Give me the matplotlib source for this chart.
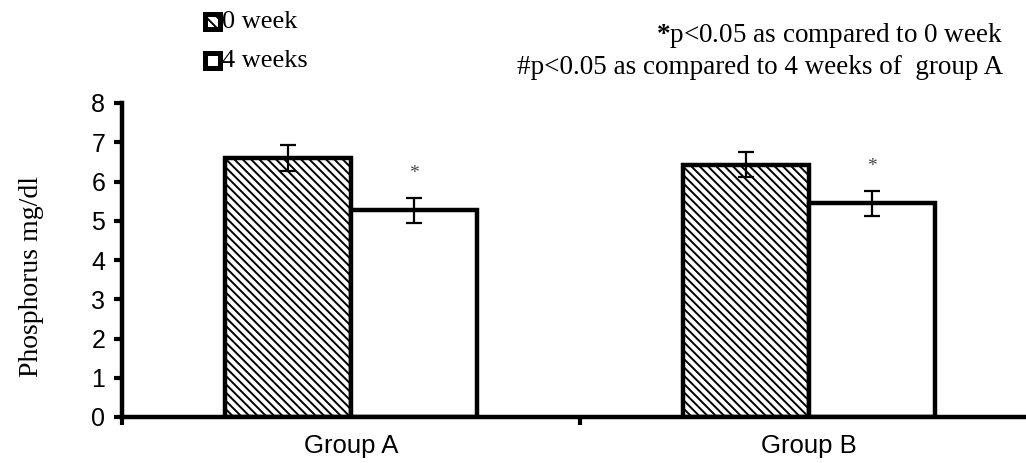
import matplotlib
matplotlib.use("Agg")
import matplotlib.pyplot as plt
from matplotlib.patches import Rectangle
import numpy as np

groups = ["Group A", "Group B"]
series = ["0 week", "4 weeks"]
week0 = [6.60, 6.43]
week4 = [5.27, 5.44]
err0 = [0.33, 0.32]
err4 = [0.32, 0.32]
sig_marks = ["*", "*"]
yticks = [0, 1, 2, 3, 4, 5, 6, 7, 8]

plt.rcParams['hatch.linewidth'] = 1.4
plt.rcParams['mathtext.fontset'] = 'custom'
plt.rcParams['mathtext.rm'] = 'Liberation Serif'
plt.rcParams['mathtext.bf'] = 'Liberation Serif:bold'

W, H = 1026, 463
fig = plt.figure(figsize=(W / 100, H / 100), dpi=100)
ax = fig.add_axes([122 / W, (H - 417) / H, 916 / W, (417 - 103) / H])

x = np.arange(len(groups))
bw = 0.275
b0 = ax.bar(x - bw / 2, week0, bw, color='white', edgecolor='black', linewidth=3.2,
            hatch='\\' * 4, zorder=2)
b4 = ax.bar(x + bw / 2, week4, bw, color='white', edgecolor='black', linewidth=3.2, zorder=2)
ax.errorbar(x - bw / 2, week0, yerr=err0, fmt='none', ecolor='black', elinewidth=1.6,
            capsize=6, capthick=1.6, zorder=3)
ax.errorbar(x + bw / 2, week4, yerr=err4, fmt='none', ecolor='black', elinewidth=1.6,
            capsize=6, capthick=1.6, zorder=3)
for xi, v, e, m in zip(x + bw / 2, week4, err4, sig_marks):
    ax.text(xi, v + e + 0.62, m, ha='center', va='center', fontsize=14,
            family='Liberation Serif', color='#444444')

ax.set_xlim(-0.5, 1.5)
ax.set_ylim(0, 8)
ax.set_yticks(yticks)
ax.set_yticklabels([str(t) for t in yticks], family='Liberation Sans', fontsize=18)
ax.tick_params(axis='y', direction='out', length=6, width=3, pad=6)
ax.set_xticks([-0.5, 0.5, 1.5])
ax.set_xticklabels([])
ax.tick_params(axis='x', which='major', direction='out', length=6, width=3)
ax.set_xticks(x, minor=True)
ax.set_xticklabels(groups, minor=True, family='Liberation Sans', fontsize=18.5)
ax.tick_params(axis='x', which='minor', length=0, pad=12)
for s in ['top', 'right']:
    ax.spines[s].set_visible(False)
for s in ['left', 'bottom']:
    ax.spines[s].set_linewidth(3.2)
ax.set_ylabel("Phosphorus mg/dl", family='Liberation Serif', fontsize=20)
ax.yaxis.set_label_coords(-0.085, 0.446)

# legend
for i, (lab, hatched) in enumerate(zip(series, [True, False])):
    yc = 22 + 39 * i
    rx, ry, s = 205, yc - 8, 15
    r = Rectangle((rx / W, 1 - (ry + s) / H), s / W, s / H, transform=fig.transFigure,
                  facecolor='white', edgecolor='black', linewidth=3.6,
                  hatch=('\\' * 3 if hatched else None))
    fig.patches.append(r)
    fig.text(222 / W, 1 - yc / H, lab, family='Liberation Serif', fontsize=19,
             va='center', ha='left')

fig.text(1003 / W, 1 - 36 / H, r"$\mathbf{*}$p<0.05 as compared to 0 week",
         family='Liberation Serif', fontsize=19.5, va='center', ha='right')
fig.text(1003 / W, 1 - 68 / H, "#p<0.05 as compared to 4 weeks of  group A",
         family='Liberation Serif', fontsize=19.5, va='center', ha='right')

fig.savefig("out.png", dpi=100)
